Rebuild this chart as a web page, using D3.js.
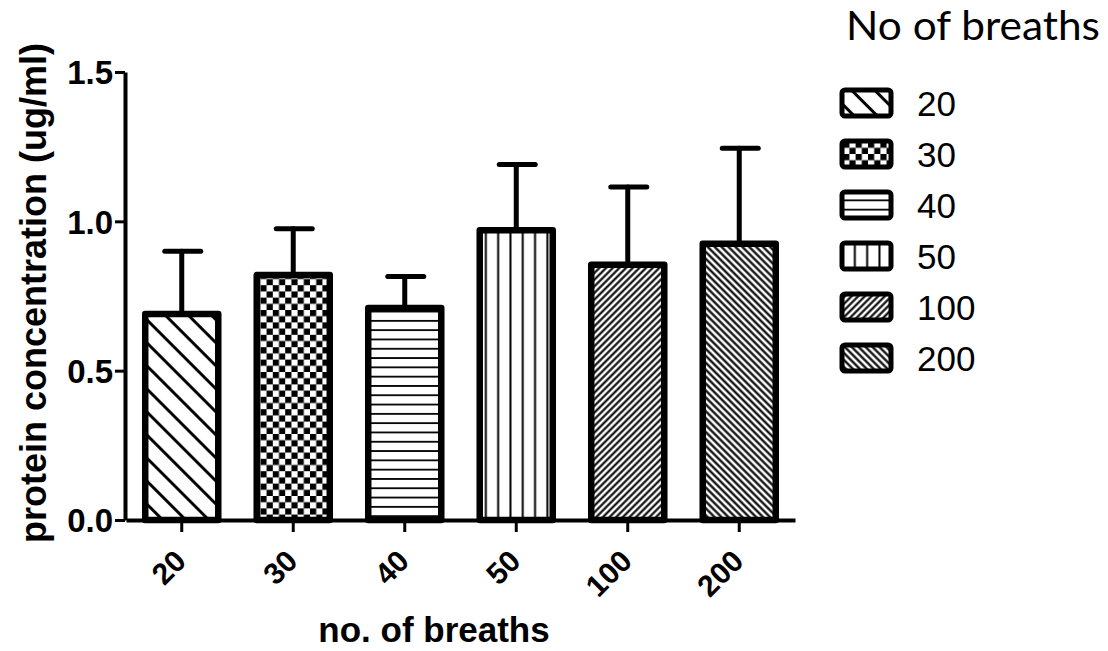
<!DOCTYPE html>
<html>
<head>
<meta charset="utf-8">
<script src="https://cdn.jsdelivr.net/npm/d3@7"></script>
<style>
  body { margin: 0; background: #fff; }
  svg { display: block; }
  .axis path, .axis line { stroke: #000; }
  .axis text { font-family: "Liberation Sans", Arial, sans-serif; font-weight: bold; fill: #000; }
</style>
</head>
<body>
<script>
(function (d3) {
    'use strict';

    // values
    var categories = ["20", "30", "40", "50", "100", "200"];
    var means = [0.69, 0.82, 0.71, 0.97, 0.855, 0.925];
    var sds = [0.21, 0.155, 0.105, 0.22, 0.26, 0.32];
    var yTicks = [0, 0.5, 1.0, 1.5];
    var patternIds = ["p20", "p30", "p40", "p50", "p100", "p200"];

    const W = 1108, H = 651;

    var svg = d3.select("body").append("svg")
        .attr("width", W)
        .attr("height", H);

    var defs = svg.append("defs");

    // diagonal hatch: angle 45 => "\" , -45 => "/"
    function hatch(id, gap, sw, angle) {
        var p = defs.append("pattern")
            .attr("id", id)
            .attr("patternUnits", "userSpaceOnUse")
            .attr("width", 20)
            .attr("height", gap)
            .attr("patternTransform", "rotate(" + angle + ")");
        p.append("rect").attr("width", 20).attr("height", gap).attr("fill", "#fff");
        p.append("line")
            .attr("x1", 0).attr("x2", 20)
            .attr("y1", gap / 2).attr("y2", gap / 2)
            .attr("stroke", "#000")
            .attr("stroke-width", sw);
    }

    hatch("p20", 16.3, 3, 45);
    hatch("p40", 9.3, 1.8, 0);
    hatch("p50", 12.3, 2, 90);
    hatch("p100", 4.7, 2.1, -45);
    hatch("p200", 4.9, 2.2, 45);

    // checkerboard
    var c = 6.2;
    var chk = defs.append("pattern")
        .attr("id", "p30")
        .attr("patternUnits", "userSpaceOnUse")
        .attr("width", c * 2)
        .attr("height", c * 2);
    chk.append("rect").attr("width", c * 2).attr("height", c * 2).attr("fill", "#fff");
    chk.append("rect").attr("width", c).attr("height", c).attr("fill", "#000");
    chk.append("rect").attr("x", c).attr("y", c).attr("width", c).attr("height", c).attr("fill", "#000");

    var x = d3.scaleBand()
        .domain(categories)
        .range([126, 795])
        .paddingInner(0.345)
        .paddingOuter(0.1725);

    var y = d3.scaleLinear()
        .domain([0, 1.5])
        .range([520, 72]);

    // bars
    svg.append("g").selectAll("rect")
        .data(categories)
        .enter().append("rect")
        .attr("x", function (d) { return x(d); })
        .attr("y", function (d, i) { return y(means[i]); })
        .attr("width", x.bandwidth())
        .attr("height", function (d, i) { return y(0) - y(means[i]); })
        .attr("fill", function (d, i) { return "url(#" + patternIds[i] + ")"; })
        .attr("stroke", "#000")
        .attr("stroke-width", 6.5)
        .attr("stroke-linejoin", "round");

    // error bars (upper only)
    var err = svg.append("g")
        .attr("stroke", "#000")
        .attr("stroke-width", 5)
        .attr("stroke-linecap", "round");

    categories.forEach(function (d, i) {
        var cx = x(d) + x.bandwidth() / 2;
        err.append("line")
            .attr("x1", cx).attr("x2", cx)
            .attr("y1", y(means[i]) - 3)
            .attr("y2", y(means[i] + sds[i]));
        err.append("line")
            .attr("x1", cx - 17).attr("x2", cx + 19)
            .attr("y1", y(means[i] + sds[i]))
            .attr("y2", y(means[i] + sds[i]));
    });

    // axes
    var xAxis = svg.append("g")
        .attr("class", "axis")
        .attr("transform", "translate(0,520)")
        .call(d3.axisBottom(x).tickSize(12).tickSizeOuter(0));
    xAxis.select(".domain").attr("stroke-width", 4);
    xAxis.selectAll(".tick line").attr("stroke-width", 3);
    xAxis.selectAll(".tick text")
        .attr("font-size", 30)
        .attr("text-anchor", "end")
        .attr("dy", 0)
        .attr("y", 0)
        .attr("transform", "translate(6,43) rotate(-45)");

    var yAxis = svg.append("g")
        .attr("class", "axis")
        .attr("transform", "translate(125,0)")
        .call(d3.axisLeft(y).tickValues(yTicks).tickFormat(d3.format(".1f")).tickSize(10).tickSizeOuter(0));
    yAxis.select(".domain").attr("stroke-width", 4);
    yAxis.selectAll(".tick line").attr("stroke-width", 3);
    yAxis.selectAll(".tick text")
        .attr("font-size", 33)
        .attr("x", -12)
        .attr("dy", "0.36em");

    // axis titles
    svg.append("text")
        .attr("x", 434)
        .attr("y", 642)
        .attr("text-anchor", "middle")
        .attr("font-family", "Liberation Sans, Arial, sans-serif")
        .attr("font-weight", "bold")
        .attr("font-size", 35)
        .text("no. of breaths");

    svg.append("text")
        .attr("transform", "translate(46,293) rotate(-90)")
        .attr("text-anchor", "middle")
        .attr("font-family", "Liberation Sans, Arial, sans-serif")
        .attr("font-weight", "bold")
        .attr("font-size", 36)
        .text("protein concentration (ug/ml)");

    // legend
    svg.append("text")
        .attr("x", 846)
        .attr("y", 40)
        .attr("font-family", "Lato, sans-serif")
        .attr("font-size", 40)
        .attr("textLength", 254)
        .attr("lengthAdjust", "spacingAndGlyphs")
        .text("No of breaths");

    var legend = svg.append("g")
        .selectAll("g")
        .data(categories)
        .enter().append("g")
        .attr("transform", function (d, i) { return "translate(0," + (103 + i * 51) + ")"; });

    legend.append("rect")
        .attr("x", 842)
        .attr("y", -13)
        .attr("width", 49)
        .attr("height", 26)
        .attr("rx", 3)
        .attr("fill", function (d, i) { return "url(#" + patternIds[i] + ")"; })
        .attr("stroke", "#000")
        .attr("stroke-width", 5);

    legend.append("text")
        .attr("x", 917)
        .attr("dy", "0.36em")
        .attr("font-family", "Liberation Sans, Arial, sans-serif")
        .attr("font-size", 35)
        .text(function (d) { return d; });

})(d3);
</script>
</body>
</html>
